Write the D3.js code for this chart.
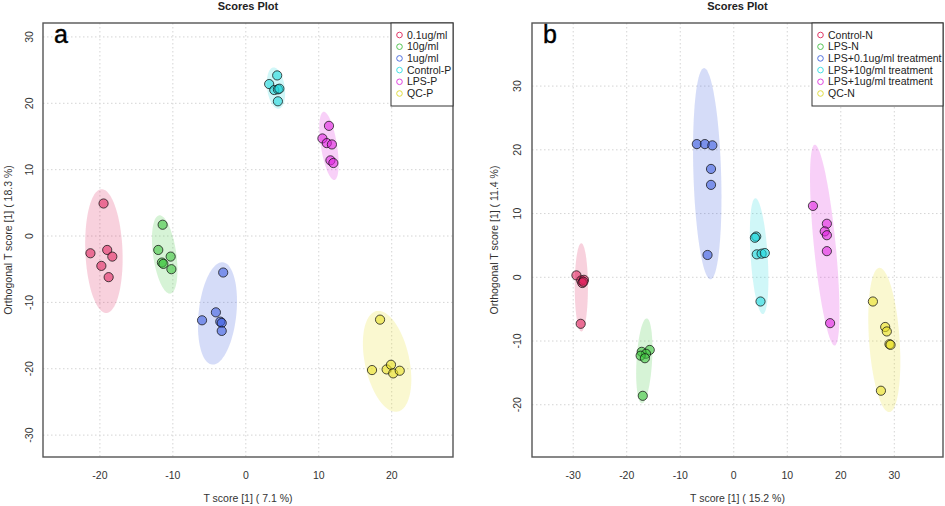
<!DOCTYPE html>
<html>
<head>
<meta charset="utf-8">
<script src="https://cdn.jsdelivr.net/npm/d3@7/dist/d3.min.js"></script>
<style>
  html, body { margin: 0; padding: 0; background: #fff; }
  svg { display: block; font-family: "Liberation Sans", Arial, sans-serif; }
</style>
</head>
<body>
<svg id="chart" width="945" height="506"></svg>
<script>
// ---------------- DATA ----------------
const panelAGroups = ["0.1ug/ml", "10g/ml", "1ug/ml", "Control-P", "LPS-P", "QC-P"];
const panelAX = [
  [-19.5, -21.3, -19.0, -18.3, -19.8, -18.8],
  [-11.4, -12.0, -10.3, -11.5, -11.3, -10.2],
  [-3.1, -4.1, -6.0, -3.5, -3.3, -3.3],
  [4.3, 3.2, 3.9, 4.4, 4.6, 4.4],
  [11.4, 10.5, 11.1, 11.8, 11.6, 12.0],
  [18.4, 17.3, 19.3, 19.9, 20.2, 21.1]
];
const panelAY = [
  [4.9, -2.6, -2.1, -3.1, -4.5, -6.2],
  [1.7, -2.1, -3.1, -4.0, -4.2, -5.0],
  [-5.5, -11.5, -12.7, -12.9, -13.1, -14.3],
  [24.2, 22.9, 22.0, 22.1, 22.2, 20.3],
  [16.6, 14.7, 14.0, 13.8, 11.4, 11.0],
  [-12.6, -20.2, -20.1, -19.4, -20.7, -20.3]
];
const panelBGroups = ["Control-N", "LPS-N", "LPS+0.1ug/ml treatment", "LPS+10g/ml treatment", "LPS+1ug/ml treatment", "QC-N"];
const panelBX = [
  [-29.4, -28.5, -28.0, -28.3, -28.1, -28.6],
  [-17.2, -15.7, -16.4, -17.4, -16.6, -17.0],
  [-6.9, -5.4, -4.0, -4.25, -4.25, -4.9],
  [4.2, 3.95, 4.3, 5.2, 5.8, 5.0],
  [14.8, 17.4, 17.0, 17.4, 17.4, 18.0],
  [26.0, 28.3, 28.6, 29.1, 29.3, 27.5]
];
const panelBY = [
  [0.3, -0.5, -0.4, -0.9, -0.7, -7.3],
  [-11.7, -11.4, -12.0, -12.3, -12.7, -18.6],
  [20.9, 20.9, 20.7, 17.0, 14.5, 3.5],
  [6.4, 6.2, 3.6, 3.7, 3.8, -3.8],
  [11.2, 8.4, 7.2, 6.6, 4.1, -7.2],
  [-3.8, -7.8, -8.5, -10.5, -10.6, -17.8]
];
const panelAXTicks = [-20, -10, 0, 10, 20];
const panelAYTicks = [-30, -20, -10, 0, 10, 20, 30];
const panelBXTicks = [-30, -20, -10, 0, 10, 20, 30];
const panelBYTicks = [-20, -10, 0, 10, 20, 30];

// ---------------- STYLE ----------------
const baseColors = ["#E0245E", "#3DC43D", "#3A5CE0", "#1FD8DD", "#E020E0", "#E8E020"];
const legendColors = ["#E03A68", "#55C455", "#5070E0", "#45E0E5", "#E045E0", "#E0DC40"];

const svg = d3.select("#chart");

const panels = [
  {
    id: "a", letter: "a",
    box: { x0: 43, x1: 453, y0: 23, y1: 457 },
    xDomain: [-27.8, 28.4], yDomain: [-33.3, 32.1],
    xTicks: panelAXTicks, yTicks: panelAYTicks,
    groups: panelAGroups, xs: panelAX, ys: panelAY,
    xLabel: "T score [1] ( 7.1 %)", yLabel: "Orthogonal T score [1] ( 18.3 %)",
    yLabelX: 8, yTickX: 29,
    legend: { x0: 391, x1: 453, y0: 23, y1: 106 }
  },
  {
    id: "b", letter: "b",
    box: { x0: 532, x1: 943, y0: 23, y1: 457 },
    xDomain: [-37.7, 39.1], yDomain: [-28.2, 39.9],
    xTicks: panelBXTicks, yTicks: panelBYTicks,
    groups: panelBGroups, xs: panelBX, ys: panelBY,
    xLabel: "T score [1] ( 15.2 %)", yLabel: "Orthogonal T score [1] ( 11.4 %)",
    yLabelX: 494, yTickX: 517,
    legend: { x0: 812, x1: 943, y0: 23, y1: 106 }
  }
];

// 95% confidence ellipse (as in R's ellipse package)
function ellipsePoints(xs, ys) {
  const n = xs.length;
  const mx = d3.mean(xs), my = d3.mean(ys);
  const sx = d3.deviation(xs), sy = d3.deviation(ys);
  let cov = 0;
  for (let i = 0; i < n; i++) cov += (xs[i] - mx) * (ys[i] - my);
  cov /= (n - 1);
  const r = Math.max(-1, Math.min(1, cov / (sx * sy)));
  const d = Math.acos(r);
  const t = Math.sqrt(5.991464547);
  const pts = [];
  for (let k = 0; k <= 100; k++) {
    const a = (k / 100) * 2 * Math.PI;
    pts.push([mx + t * sx * Math.cos(a + d / 2), my + t * sy * Math.cos(a - d / 2)]);
  }
  return pts;
}

panels.forEach(p => {
  const g = svg.append("g");
  const x = d3.scaleLinear().domain(p.xDomain).range([p.box.x0, p.box.x1]);
  const y = d3.scaleLinear().domain(p.yDomain).range([p.box.y1, p.box.y0]);

  g.append("clipPath").attr("id", "clip-" + p.id)
    .append("rect")
    .attr("x", p.box.x0).attr("y", p.box.y0)
    .attr("width", p.box.x1 - p.box.x0).attr("height", p.box.y1 - p.box.y0);

  // grid
  const grid = g.append("g").attr("clip-path", `url(#clip-${p.id})`);
  grid.selectAll("line.vx").data(p.xTicks).join("line")
    .attr("x1", d => x(d)).attr("x2", d => x(d))
    .attr("y1", p.box.y0).attr("y2", p.box.y1)
    .attr("stroke", "#d4d4d4").attr("stroke-width", 1).attr("stroke-dasharray", "1.5,2.5");
  grid.selectAll("line.hy").data(p.yTicks).join("line")
    .attr("y1", d => y(d)).attr("y2", d => y(d))
    .attr("x1", p.box.x0).attr("x2", p.box.x1)
    .attr("stroke", "#d4d4d4").attr("stroke-width", 1).attr("stroke-dasharray", "1.5,2.5");

  // ellipses
  const line = d3.line().x(d => x(d[0])).y(d => y(d[1])).curve(d3.curveLinearClosed);
  const eg = g.append("g").attr("clip-path", `url(#clip-${p.id})`);
  p.groups.forEach((name, i) => {
    eg.append("path")
      .attr("d", line(ellipsePoints(p.xs[i], p.ys[i])))
      .attr("fill", baseColors[i]).attr("fill-opacity", 0.21).attr("stroke", "none");
  });

  // points
  const pg = g.append("g").attr("clip-path", `url(#clip-${p.id})`);
  p.groups.forEach((name, i) => {
    const pts = p.xs[i].map((v, j) => [v, p.ys[i][j]]);
    pg.selectAll(null).data(pts).join("circle")
      .attr("cx", d => x(d[0])).attr("cy", d => y(d[1])).attr("r", 4.6)
      .attr("fill", baseColors[i]).attr("fill-opacity", 0.58)
      .attr("stroke", "#111").attr("stroke-opacity", 0.75).attr("stroke-width", 1);
  });

  // box
  g.append("rect")
    .attr("x", p.box.x0).attr("y", p.box.y0)
    .attr("width", p.box.x1 - p.box.x0).attr("height", p.box.y1 - p.box.y0)
    .attr("fill", "none").attr("stroke", "#555").attr("stroke-width", 1.4);

  // tick labels
  g.selectAll("text.xt").data(p.xTicks).join("text")
    .attr("x", d => x(d)).attr("y", 479)
    .attr("text-anchor", "middle").attr("font-size", 10.5).attr("fill", "#333")
    .text(d => d);
  g.selectAll("text.yt").data(p.yTicks).join("text")
    .attr("transform", d => `translate(${p.yTickX},${y(d)}) rotate(-90)`)
    .attr("text-anchor", "middle").attr("dy", "0.35em")
    .attr("font-size", 10.5).attr("fill", "#333")
    .text(d => d);

  // axis titles
  g.append("text")
    .attr("x", (p.box.x0 + p.box.x1) / 2).attr("y", 502)
    .attr("text-anchor", "middle").attr("font-size", 10.5).attr("fill", "#333")
    .text(p.xLabel);
  g.append("text")
    .attr("transform", `translate(${p.yLabelX},${(p.box.y0 + p.box.y1) / 2}) rotate(-90)`)
    .attr("text-anchor", "middle").attr("dy", "0.35em")
    .attr("font-size", 10.5).attr("fill", "#333")
    .text(p.yLabel);

  // title
  g.append("text")
    .attr("x", (p.box.x0 + p.box.x1) / 2).attr("y", 10)
    .attr("text-anchor", "middle").attr("font-size", 11).attr("font-weight", "bold")
    .attr("fill", "#222")
    .text("Scores Plot");

  // panel letter
  g.append("text")
    .attr("x", p.box.x0 + 11).attr("y", p.box.y0 + 20)
    .attr("font-size", 25).attr("fill", "#000")
    .attr("stroke", "#000").attr("stroke-width", 0.4)
    .text(p.letter);

  // legend
  const L = p.legend;
  g.append("rect")
    .attr("x", L.x0).attr("y", L.y0)
    .attr("width", L.x1 - L.x0).attr("height", L.y1 - L.y0)
    .attr("fill", "#fff").attr("stroke", "#333").attr("stroke-width", 1);
  p.groups.forEach((name, i) => {
    const ly = L.y0 + 12 + i * 11.7;
    g.append("circle")
      .attr("cx", L.x0 + 8.5).attr("cy", ly).attr("r", 2.8)
      .attr("fill", "none").attr("stroke", legendColors[i]).attr("stroke-width", 1);
    g.append("text")
      .attr("x", L.x0 + 16).attr("y", ly).attr("dy", "0.35em")
      .attr("font-size", 10.5).attr("fill", "#222")
      .text(name);
  });
});
</script>
</body>
</html>
